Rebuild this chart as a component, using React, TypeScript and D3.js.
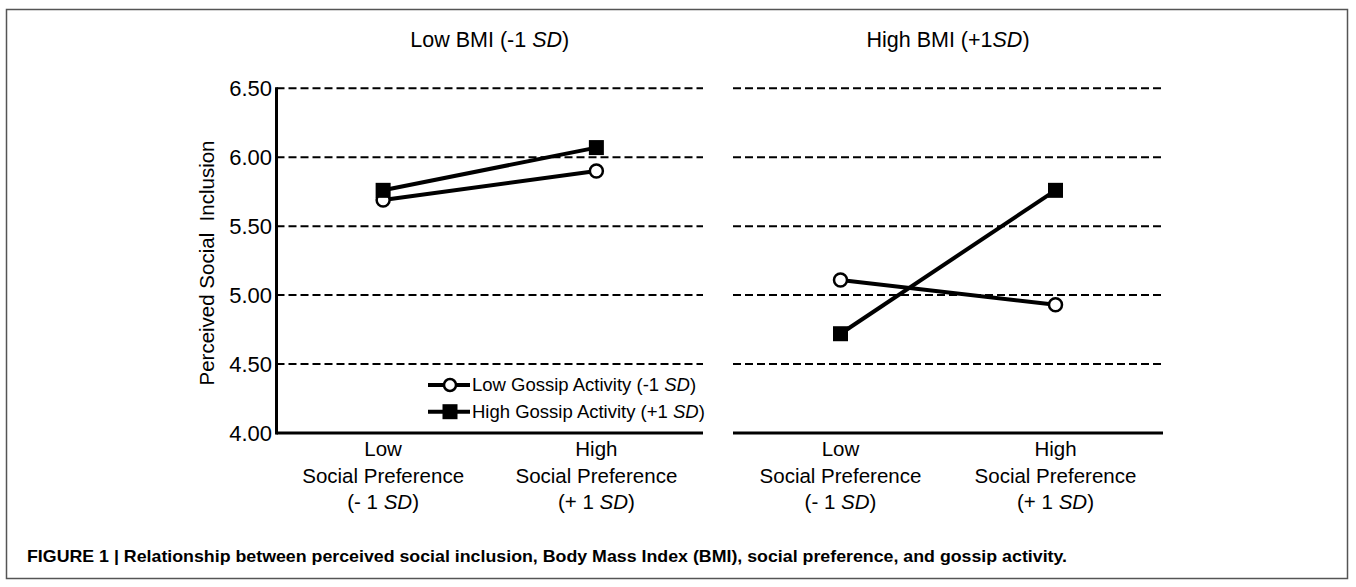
import React from "react";
import * as d3 from "d3";

const categories = ["Low", "High"];
const categoryLines = [
  ["Low", "Social Preference", "(- 1 "],
  ["High", "Social Preference", "(+ 1 "],
];
const panelTitles = [
  ["Low BMI (-1 ", "SD", ")"],
  ["High BMI (+1", "SD", ")"],
];
const lowGossipLowBMI = [5.69, 5.9];
const highGossipLowBMI = [5.76, 6.07];
const lowGossipHighBMI = [5.11, 4.93];
const highGossipHighBMI = [4.72, 5.76];
const yTicks = [4.0, 4.5, 5.0, 5.5, 6.0, 6.5];
const legendLabels = ["Low Gossip Activity (-1 ", "High Gossip Activity (+1 "];
const caption =
  "FIGURE 1 | Relationship between perceived social inclusion, Body Mass Index (BMI), social preference, and gossip activity.";

const FONT = "'Liberation Sans', Arial, Helvetica, sans-serif";

export default function App() {
  const W = 1356;
  const H = 587;
  const y = d3.scaleLinear().domain([4.0, 6.5]).range([433, 88.3]);
  const panelRanges: [number, number][] = [
    [276.5, 703],
    [733, 1163],
  ];
  const panelData = [
    [lowGossipLowBMI, highGossipLowBMI],
    [lowGossipHighBMI, highGossipHighBMI],
  ];
  const line = (xs: d3.ScalePoint<string>) =>
    d3
      .line<number>()
      .x((_, i) => xs(categories[i]) as number)
      .y((v) => y(v));

  const sq = 15;

  return (
    <svg
      width={W}
      height={H}
      style={{ position: "absolute", left: 0, top: 0, background: "#fff" }}
      fontFamily={FONT}
    >
      <rect x={0} y={0} width={W} height={H} fill="#fff" />
      <rect x={6.5} y={9.5} width={1341} height={569} fill="none" stroke="#555" strokeWidth={1.5} />

      {panelRanges.map((rng, p) => {
        const xs = d3.scalePoint<string>().domain(categories).range(rng).padding(0.5);
        const [lowS, highS] = panelData[p];
        const cx = (rng[0] + rng[1]) / 2;
        return (
          <g key={p}>
            <text x={cx} y={47} textAnchor="middle" fontSize={21.5}>
              {panelTitles[p][0]}
              <tspan fontStyle="italic">{panelTitles[p][1]}</tspan>
              {panelTitles[p][2]}
            </text>
            {yTicks.slice(1).map((t) => (
              <line
                key={t}
                x1={rng[0]}
                x2={rng[1]}
                y1={y(t)}
                y2={y(t)}
                stroke="#000"
                strokeWidth={2}
                strokeDasharray="8,4"
              />
            ))}
            <line x1={rng[0]} x2={rng[1]} y1={y(4)} y2={y(4)} stroke="#000" strokeWidth={3} />
            {categoryLines.map((lines, i) => (
              <text
                key={i}
                x={xs(categories[i]) as number}
                textAnchor="middle"
                fontSize={20.5}
              >
                <tspan x={xs(categories[i]) as number} y={456}>{lines[0]}</tspan>
                <tspan x={xs(categories[i]) as number} y={483}>{lines[1]}</tspan>
                <tspan x={xs(categories[i]) as number} y={509}>
                  {lines[2]}
                  <tspan fontStyle="italic">SD</tspan>)
                </tspan>
              </text>
            ))}
            <path d={line(xs)(lowS) || ""} fill="none" stroke="#000" strokeWidth={4} />
            <path d={line(xs)(highS) || ""} fill="none" stroke="#000" strokeWidth={4} />
            {lowS.map((v, i) => (
              <circle
                key={"c" + i}
                cx={xs(categories[i]) as number}
                cy={y(v)}
                r={6.5}
                fill="#fff"
                stroke="#000"
                strokeWidth={2.5}
              />
            ))}
            {highS.map((v, i) => (
              <rect
                key={"s" + i}
                x={(xs(categories[i]) as number) - sq / 2}
                y={y(v) - sq / 2}
                width={sq}
                height={sq}
                fill="#000"
              />
            ))}
          </g>
        );
      })}

      {/* y axis */}
      <line x1={276.5} x2={276.5} y1={y(6.5) - 1} y2={y(4) + 1.5} stroke="#000" strokeWidth={3} />
      {yTicks.map((t) => (
        <text key={t} x={272} y={y(t)} dy="0.35em" textAnchor="end" fontSize={22}>
          {t.toFixed(2)}
        </text>
      ))}
      <text
        transform={`translate(214,${263}) rotate(-90)`}
        textAnchor="middle"
        fontSize={20.5}
        style={{ whiteSpace: "pre" }}
      >
        {"Perceived Social  Inclusion"}
      </text>

      {/* legend */}
      {legendLabels.map((lab, i) => {
        const ly = 385 + i * 26.7;
        return (
          <g key={i}>
            <line x1={428} x2={470} y1={ly} y2={ly} stroke="#000" strokeWidth={4} />
            {i === 0 ? (
              <circle cx={450} cy={ly} r={6} fill="#fff" stroke="#000" strokeWidth={2.5} />
            ) : (
              <rect x={450 - 7.5} y={ly - 7.5} width={15} height={15} fill="#000" />
            )}
            <text x={472} y={ly} dy="0.35em" fontSize={18.5}>
              {lab}
              <tspan fontStyle="italic">SD</tspan>)
            </text>
          </g>
        );
      })}

      <text
        x={27}
        y={562}
        fontSize={16.5}
        fontWeight="bold"
        textLength={1040}
        lengthAdjust="spacingAndGlyphs"
      >
        {caption}
      </text>
    </svg>
  );
}
